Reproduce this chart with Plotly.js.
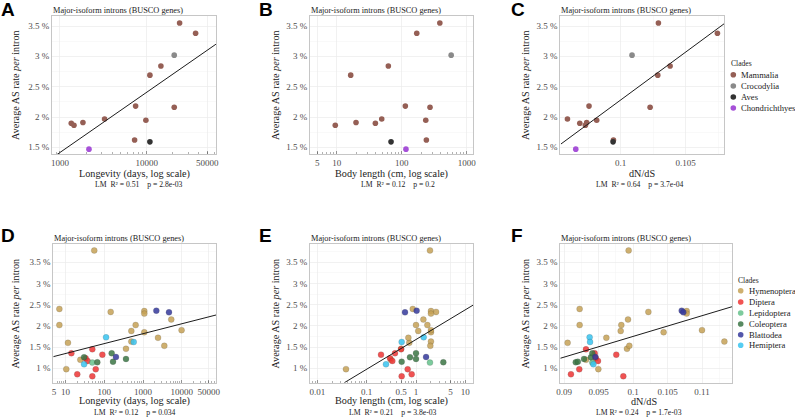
<!DOCTYPE html>
<html><head><meta charset="utf-8">
<script src="https://cdn.plot.ly/plotly-3.0.1.min.js"></script>
<style>html,body{margin:0;padding:0;background:#fff}#chart{width:795px;height:417px}</style>
</head><body><div id="chart"></div>
<script>
// ---------- Vertebrates (panels A, B, C) ----------
const vertClades = ['Mammalia', 'Crocodylia', 'Aves', 'Chondrichthyes'];
const vertColors = ['#955f55', '#8a8a8a', '#333333', '#a651d8'];

const mamAS        = [1.896, 1.863, 1.91, 1.967, 2.18, 1.62, 1.946, 2.69, 2.84, 2.16, 3.55, 3.38];
const mamLongevity = [1350, 1450, 1840, 3270, 7460, 7260, 9800, 10900, 14600, 20800, 24000, 36700];
const mamBody      = [39.3, 9.5, 19.8, 49.2, 113.5, 239, 234, 16.4, 62.2, 272, 385, 170];
const mamDnds      = [0.09685, 0.09728, 0.09738, 0.09590, 0.09756, 0.09944, 0.09815, 0.10285, 0.1038, 0.10226, 0.1029, 0.10744];

const croAS = [3.02],  croLongevity = [20800], croBody = [575],  croDnds = [0.10087];
const aveAS = [1.59],  aveLongevity = [10900], aveBody = [68.4], aveDnds = [0.09941];
const choAS = [1.47],  choLongevity = [2160],  choBody = [116],  choDnds = [0.09654];

// ---------- Insects (panels D, E, F) ----------
const insClades = ['Hymenoptera', 'Diptera', 'Lepidoptera', 'Coleoptera', 'Blattodea', 'Hemiptera'];
const insColors = ['#c6a256', '#ee3535', '#66c28c', '#3b7645', '#35399c', '#38c4f0'];

const hymAS        = [3.78, 2.40, 2.02, 1.60, 0.98, 1.20, 2.33, 2.35, 2.29, 1.85, 1.88, 2.02, 1.63, 1.46, 1.72, 1.53, 2.15, 1.90];
const hymLongevity = [55, 6.9, 6.9, 11.5, 10.4, 24, 146, 1080, 1080, 1080, 499, 645, 499, 363, 2440, 3550, 5370, 9930];
const hymBody      = [1.92, 0.86, 1.0, 0.73, 0.038, 0.31, 2.55, 2.01, 2.01, 2.01, 1.11, 1.70, 2.01, 0.5, 0.70, 1.95, 1.41, 2.01];
const hymDnds      = [0.09936, 0.09226, 0.09226, 0.09052, 0.09497, 0.09318, 0.10222, 0.10777, 0.10777, 0.10443, 0.09821, 0.0983, 0.11323, 0.09912, 0.09613, 0.09946, 0.09927, 0.10999];

const dipAS        = [1.354, 1.448, 1.322, 1.236, 1.173, 0.976, 0.858, 0.811];
const dipLongevity = [14.1, 49, 89, 33, 37, 60, 20, 49];
const dipBody      = [0.375, 0.497, 0.195, 0.297, 0.331, 0.678, 0.817, 0.512];
const dipDnds      = [0.09444, 0.09318, 0.09757, 0.0946, 0.09492, 0.09221, 0.091, 0.09859];

const lepAS = [1.134], lepLongevity = [49], lepBody = [1.92], lepDnds = [0.0941];

const colAS        = [1.26, 1.142, 1.354, 1.157, 1.22];
const colLongevity = [30, 66, 155, 168, 363];
const colBody      = [0.755, 3.58, 1.0, 0.512, 1.0];
const colDnds      = [0.0939, 0.0917, 0.0941, 0.0920, 0.0929];

const blaAS        = [1.267, 2.36, 2.32];
const blaLongevity = [200, 2210, 4690];
const blaBody      = [1.6, 1.03, 0.598];
const blaDnds      = [0.09454, 0.10705, 0.10728];

const hemAS        = [1.73, 1.62, 1.094];
const hemLongevity = [111, 575, 30];
const hemBody      = [1.43, 0.512, 0.246];
const hemDnds      = [0.09371, 0.09377, 0.09425];

// ---------- Linear-model fit lines (end points) ----------
const fitA_x = [900, 63000],     fitA_y = [1.37, 3.20];
const fitC_x = [0.0954, 0.1080], fitC_y = [1.555, 3.544];
const fitD_x = [4.8, 76900],     fitD_y = [1.274, 2.257];
const fitE_x = [0.0352, 14.5],   fitE_y = [0.66, 2.493];
const fitF_x = [0.08946, 0.11438], fitF_y = [1.236, 2.455];

// ---------- Text ----------
const panelTitle = 'Major-isoform introns (BUSCO genes)';
const yTitle = 'Average AS rate <i>per</i> intron';
const xTitles = ['Longevity (days, log scale)', 'Body length (cm, log scale)', 'dN/dS',
                 'Longevity (days, log scale)', 'Body length (cm, log scale)', 'dN/dS'];
const lmTexts = ['LM  R² = 0.51    p = 2.8e-03', 'LM  R² = 0.12    p = 0.2',
                 'LM  R² = 0.64    p = 3.7e-04', 'LM  R² = 0.12    p = 0.034',
                 'LM  R² = 0.21    p = 3.8e-03', 'LM R² = 0.24    p = 1.7e-03'];
const panelLetters = ['A', 'B', 'C', 'D', 'E', 'F'];

const ticksTopY = [1.5, 2, 2.5, 3, 3.5];
const ticksTopYText = ['1.5 %', '2 %', '2.5 %', '3 %', '3.5 %'];
const ticksBotY = [1, 1.5, 2, 2.5, 3, 3.5];
const ticksBotYText = ['1 %', '1.5 %', '2 %', '2.5 %', '3 %', '3.5 %'];
const ticksA = [1000, 10000, 50000];
const ticksB = [5, 10, 100, 1000];
const ticksC = [0.1, 0.105];
const ticksD = [5, 10, 100, 1000, 10000, 50000];
const ticksE = [0.01, 0.1, 0.5, 1, 5, 10];
const ticksF = [0.09, 0.095, 0.1, 0.105, 0.11];

// ---------- Helpers ----------
const W = 795, H = 417;
const FONT = '"Liberation Serif", "Times New Roman", serif';
const px = v => v / W, py = v => 1 - v / H;

function logMinor(lo, hi) {
  const v = [];
  for (let e = lo; e <= hi; e++) for (let m = 2; m <= 9; m++) v.push(+(m * Math.pow(10, e)).toPrecision(6));
  return v;
}

function pts(x, y, color, ax, insect) {
  return {type: 'scatter', mode: 'markers', x: x, y: y, xaxis: 'x' + ax, yaxis: 'y' + ax,
    marker: {size: insect ? 6 : 5.6, color: color, opacity: insect ? 0.85 : 1,
             line: {width: insect ? 0.5 : 0, color: 'rgba(40,40,40,0.35)'}},
    showlegend: false, hoverinfo: 'skip'};
}
function fit(x, y, ax) {
  return {type: 'scatter', mode: 'lines', x: x, y: y, xaxis: 'x' + ax, yaxis: 'y' + ax,
    line: {color: '#1c1c1c', width: 1}, showlegend: false, hoverinfo: 'skip'};
}

const traces = [];
const vertX = [[mamLongevity, croLongevity, aveLongevity, choLongevity],
               [mamBody, croBody, aveBody, choBody],
               [mamDnds, croDnds, aveDnds, choDnds]];
const vertY = [mamAS, croAS, aveAS, choAS];
for (let p = 0; p < 3; p++) {
  const ax = p === 0 ? '' : String(p + 1);
  for (let c = 0; c < 4; c++) traces.push(pts(vertX[p][c], vertY[c], vertColors[c], ax, false));
}
traces.push(fit(fitA_x, fitA_y, ''));
traces.push(fit(fitC_x, fitC_y, '3'));

const insX = [[hymLongevity, dipLongevity, lepLongevity, colLongevity, blaLongevity, hemLongevity],
              [hymBody, dipBody, lepBody, colBody, blaBody, hemBody],
              [hymDnds, dipDnds, lepDnds, colDnds, blaDnds, hemDnds]];
const insY = [hymAS, dipAS, lepAS, colAS, blaAS, hemAS];
for (let p = 0; p < 3; p++) {
  const ax = String(p + 4);
  for (let c = 0; c < 6; c++) traces.push(pts(insX[p][c], insY[c], insColors[c], ax, true));
}
traces.push(fit(fitD_x, fitD_y, '4'));
traces.push(fit(fitE_x, fitE_y, '5'));
traces.push(fit(fitF_x, fitF_y, '6'));

// panel geometry in pixels: [left, right, top, bottom]
const geo = [[52, 216, 16, 154], [310, 473.3, 16, 154], [560.3, 724.3, 16, 154],
             [53.3, 216, 244.3, 382.7], [310, 473.3, 244.3, 382.7], [560.3, 732.3, 244.3, 382.7]];
const xTypes = ['log', 'log', 'linear', 'log', 'log', 'linear'];
const xRanges = [[2.908, 4.80], [0.589, 3.10], [0.09535, 0.10797], [0.682, 4.886], [-2.15, 1.162], [0.08946, 0.11438]];
const xTicks = [ticksA, ticksB, ticksC, ticksD, ticksE, ticksF];
const xMinor = [logMinor(2, 4), logMinor(0, 2), [0.0975, 0.1025, 0.1075], logMinor(0, 4), logMinor(-3, 1), [0.0925, 0.0975, 0.1025, 0.1075, 0.1125]];

const layout = {
  width: W, height: H, margin: {l: 0, r: 0, t: 0, b: 0},
  paper_bgcolor: '#ffffff', plot_bgcolor: '#ffffff', showlegend: false,
  annotations: [], shapes: []
};

for (let i = 0; i < 6; i++) {
  const g = geo[i];
  const ax = i === 0 ? '' : String(i + 1);
  const isLog = xTypes[i] === 'log';
  layout['xaxis' + ax] = {
    domain: [px(g[0]), px(g[1])], anchor: 'y' + ax, type: xTypes[i], range: xRanges[i],
    tickmode: 'array', tickvals: xTicks[i], ticktext: xTicks[i].map(String),
    showline: true, mirror: true, linecolor: '#c6c6c6', linewidth: 1,
    showgrid: true, gridcolor: '#ebebeb', gridwidth: 0.7, zeroline: false,
    ticks: isLog ? 'inside' : '', ticklen: 3, tickwidth: 0.6, tickcolor: '#555',
    tickfont: {family: FONT, size: 9, color: '#4d4d4d'},
    minor: isLog ? {tickmode: 'array', tickvals: xMinor[i], ticks: 'inside', ticklen: 1.6, tickwidth: 0.5, tickcolor: '#666', showgrid: false}
                 : {tickmode: 'array', tickvals: xMinor[i], ticks: '', showgrid: true, gridcolor: '#f4f4f4', gridwidth: 0.5},
    fixedrange: true
  };
  const top = i < 3;
  layout['yaxis' + ax] = {
    domain: [py(g[3]), py(g[2])], anchor: 'x' + ax, type: 'linear',
    range: top ? [1.39, 3.665] : [0.66, 3.925],
    tickmode: 'array', tickvals: top ? ticksTopY : ticksBotY, ticktext: top ? ticksTopYText : ticksBotYText,
    showline: true, mirror: true, linecolor: '#c6c6c6', linewidth: 1,
    showgrid: true, gridcolor: '#ebebeb', gridwidth: 0.7, zeroline: false, ticks: '',
    tickfont: {family: FONT, size: 9, color: '#4d4d4d'},
    minor: {tickmode: 'array', tickvals: top ? [1.75, 2.25, 2.75, 3.25] : [0.75, 1.25, 1.75, 2.25, 2.75, 3.25, 3.75], ticks: '', showgrid: true, gridcolor: '#f4f4f4', gridwidth: 0.5},
    fixedrange: true
  };
}

function ann(text, x, y, size, opts) {
  return Object.assign({text: text, x: px(x), y: py(y), xref: 'paper', yref: 'paper', showarrow: false,
    xanchor: 'center', yanchor: 'middle', borderpad: 0,
    font: {family: FONT, size: size, color: '#1a1a1a'}}, opts || {});
}

const yTitleX = [15, 275, 525, 15, 275, 525];
const xTitleX = [134, 391.7, 641.7, 134.7, 391.7, 643.5];
const lmX = [138.5, 398.3, 640, 134.7, 393.3, 639.3];
const letterX = [0, 258, 510, 0, 258, 510];
for (let i = 0; i < 6; i++) {
  const g = geo[i];
  const top = i < 3;
  layout.annotations.push(ann(panelTitle, g[0], top ? 10.5 : 238.2, 8.3, {xanchor: 'left'}));
  layout.annotations.push(ann(yTitle, yTitleX[i], (g[2] + g[3]) / 2, 10.2, {textangle: -90}));
  layout.annotations.push(ann(xTitles[i], xTitleX[i], top ? 173.7 : 401, 10.2));
  layout.annotations.push(ann(lmTexts[i], lmX[i], top ? 184.3 : 412.3, 7.7));
  layout.annotations.push(ann('<b>' + panelLetters[i] + '</b>', letterX[i], top ? 10 : 235.8, 19,
    {xanchor: 'left', font: {family: '"Liberation Sans", Arial, sans-serif', size: 19, color: '#000'}}));
}

// compact legends (drawn as shapes + text, matching the reference spacing)
function legend(title, names, colors, titleX, titleY, dotX, textX, ys, opacity) {
  layout.annotations.push(ann(title, titleX, titleY, 7.6, {xanchor: 'left'}));
  for (let k = 0; k < names.length; k++) {
    const r = 2.8;
    layout.shapes.push({type: 'circle', xref: 'paper', yref: 'paper',
      x0: px(dotX - r), x1: px(dotX + r), y0: py(ys[k] + r), y1: py(ys[k] - r),
      fillcolor: colors[k], opacity: opacity, line: {width: 0}});
    layout.annotations.push(ann(names[k], textX, ys[k], 8.6, {xanchor: 'left'}));
  }
}
legend('Clades', vertClades, vertColors, 730, 63.3, 733.3, 740, [74.7, 86, 97, 108], 1);
legend('Clades', insClades, insColors, 737.3, 280, 740.7, 748.3, [290.7, 302, 313, 324, 334.7, 345.3], 0.85);

Plotly.newPlot('chart', traces, layout, {staticPlot: true, displayModeBar: false});
</script>
</body></html>
